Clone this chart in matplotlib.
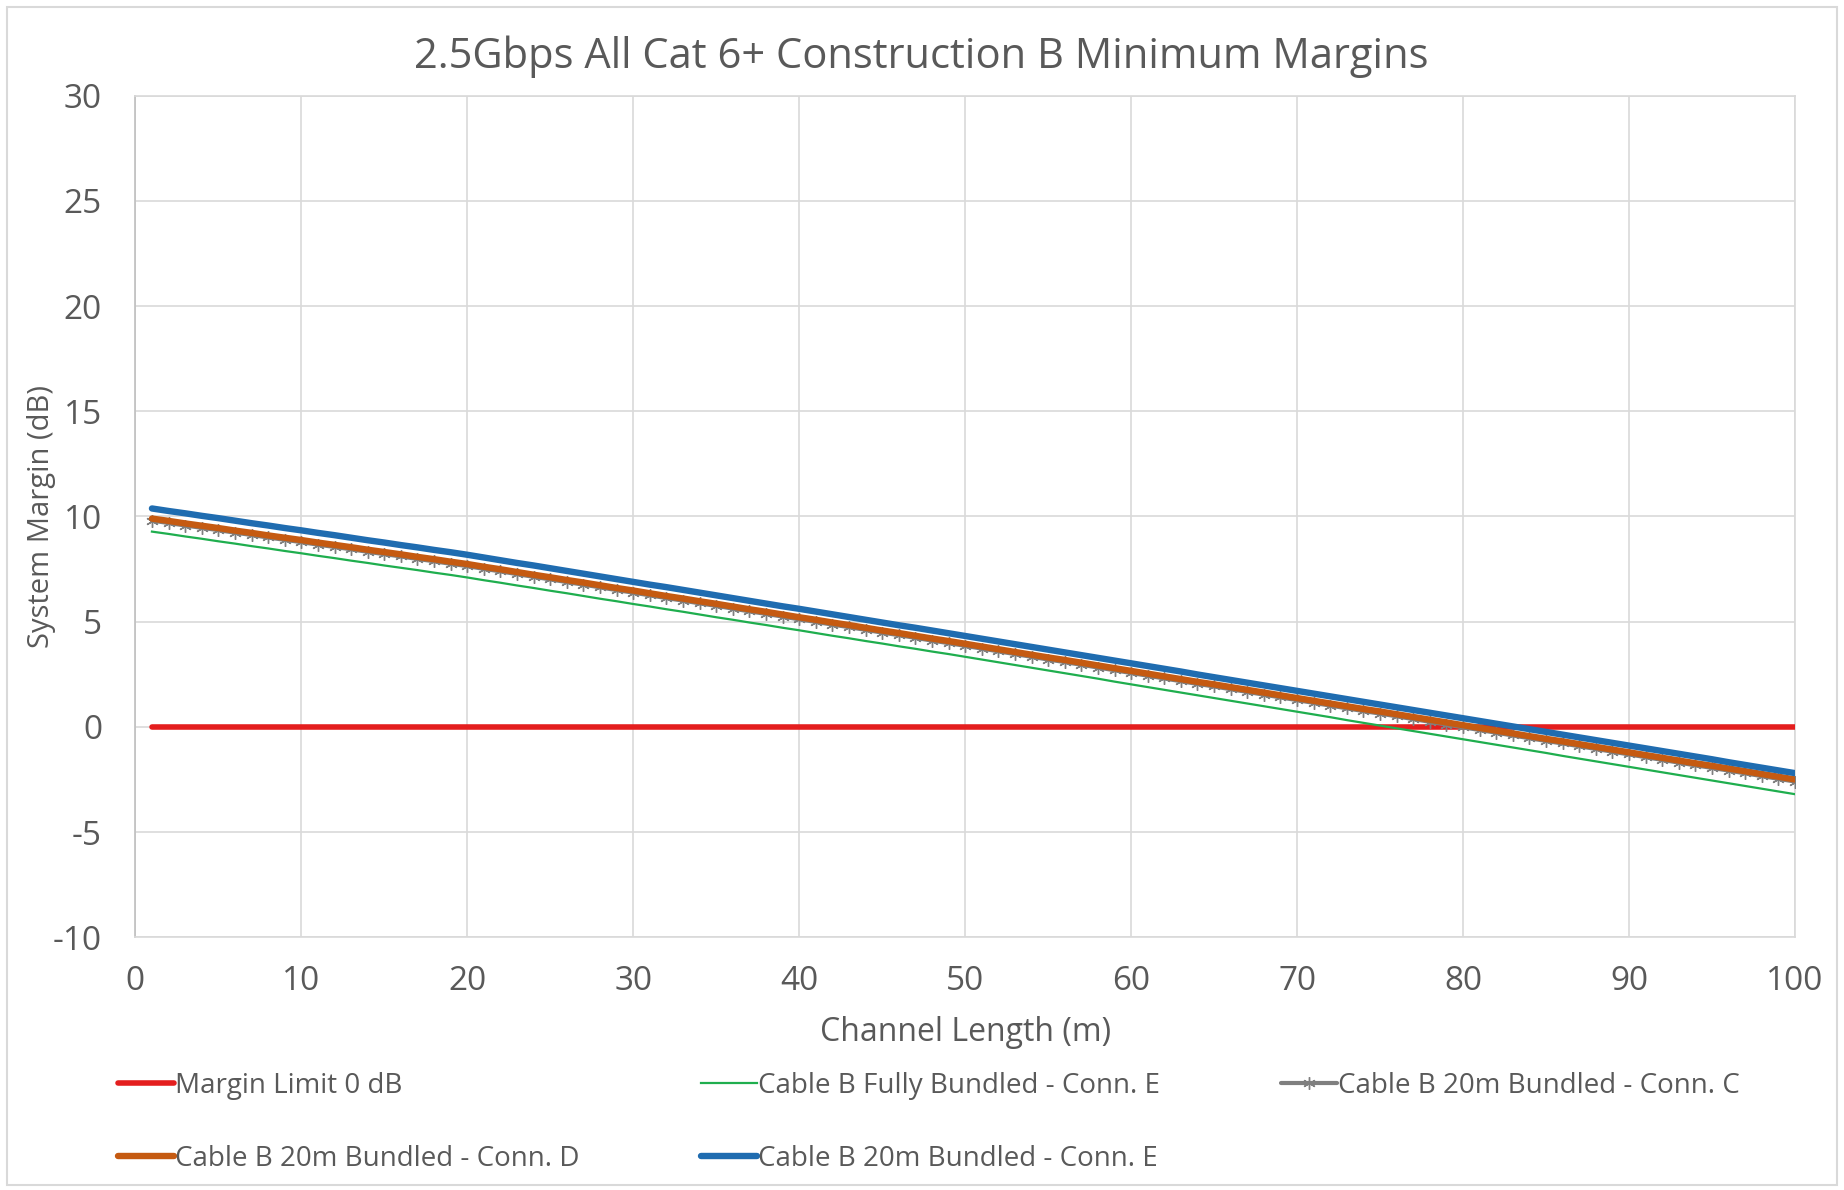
import matplotlib
matplotlib.use("Agg")
import matplotlib.pyplot as plt
from matplotlib.patches import Rectangle

plt.rcParams['font.family'] = ['Open Sans', 'DejaVu Sans']
plt.rcParams['axes.unicode_minus'] = False

# channel length (m)
length = list(range(1, 101))

# system margin (dB)
margin_limit = [0.0] * 100

fully_bundled_e = [
    9.28, 9.17, 9.05, 8.94, 8.82, 8.71, 8.59, 8.48, 8.36, 8.25,
    8.13, 8.02, 7.90, 7.79, 7.67, 7.56, 7.45, 7.33, 7.22, 7.10,
    6.97, 6.85, 6.72, 6.60, 6.47, 6.35, 6.22, 6.09, 5.97, 5.84,
    5.72, 5.59, 5.47, 5.34, 5.21, 5.09, 4.96, 4.84, 4.71, 4.59,
    4.46, 4.33, 4.21, 4.08, 3.96, 3.83, 3.71, 3.58, 3.46, 3.33,
    3.20, 3.07, 2.94, 2.81, 2.68, 2.55, 2.42, 2.29, 2.15, 2.02,
    1.89, 1.76, 1.63, 1.50, 1.37, 1.24, 1.11, 0.98, 0.85, 0.72,
    0.59, 0.46, 0.32, 0.19, 0.06, -0.07, -0.20, -0.33, -0.46, -0.59,
    -0.72, -0.85, -0.98, -1.11, -1.24, -1.38, -1.51, -1.64, -1.77, -1.90,
    -2.03, -2.16, -2.29, -2.42, -2.55, -2.68, -2.81, -2.94, -3.07, -3.20,
]

bundled_20m_c = [
    9.80, 9.69, 9.57, 9.46, 9.35, 9.23, 9.12, 9.00, 8.89, 8.78,
    8.66, 8.55, 8.44, 8.32, 8.21, 8.10, 7.98, 7.87, 7.75, 7.64,
    7.51, 7.39, 7.26, 7.13, 7.01, 6.88, 6.76, 6.63, 6.50, 6.38,
    6.25, 6.12, 6.00, 5.87, 5.75, 5.62, 5.49, 5.37, 5.24, 5.11,
    4.99, 4.86, 4.74, 4.61, 4.48, 4.36, 4.23, 4.10, 3.98, 3.85,
    3.72, 3.59, 3.46, 3.33, 3.20, 3.08, 2.95, 2.82, 2.69, 2.56,
    2.43, 2.30, 2.17, 2.04, 1.92, 1.79, 1.66, 1.53, 1.40, 1.27,
    1.14, 1.01, 0.88, 0.75, 0.63, 0.50, 0.37, 0.24, 0.11, -0.02,
    -0.15, -0.28, -0.41, -0.54, -0.67, -0.79, -0.92, -1.05, -1.18, -1.31,
    -1.44, -1.57, -1.70, -1.83, -1.95, -2.08, -2.21, -2.34, -2.47, -2.60,
]

bundled_20m_d = [
    9.90, 9.79, 9.67, 9.56, 9.45, 9.33, 9.22, 9.10, 8.99, 8.88,
    8.76, 8.65, 8.54, 8.42, 8.31, 8.20, 8.08, 7.97, 7.85, 7.74,
    7.61, 7.49, 7.36, 7.23, 7.11, 6.98, 6.86, 6.73, 6.60, 6.48,
    6.35, 6.22, 6.10, 5.97, 5.85, 5.72, 5.59, 5.47, 5.34, 5.21,
    5.09, 4.96, 4.84, 4.71, 4.58, 4.46, 4.33, 4.20, 4.08, 3.95,
    3.82, 3.69, 3.56, 3.43, 3.30, 3.18, 3.05, 2.92, 2.79, 2.66,
    2.53, 2.40, 2.27, 2.14, 2.02, 1.89, 1.76, 1.63, 1.50, 1.37,
    1.24, 1.11, 0.98, 0.85, 0.73, 0.60, 0.47, 0.34, 0.21, 0.08,
    -0.05, -0.18, -0.31, -0.44, -0.57, -0.69, -0.82, -0.95, -1.08, -1.21,
    -1.34, -1.47, -1.60, -1.73, -1.85, -1.98, -2.11, -2.24, -2.37, -2.50,
]

bundled_20m_e = [
    10.38, 10.26, 10.15, 10.03, 9.92, 9.80, 9.68, 9.57, 9.45, 9.34,
    9.22, 9.11, 8.99, 8.87, 8.76, 8.64, 8.53, 8.41, 8.30, 8.18,
    8.05, 7.92, 7.79, 7.67, 7.54, 7.41, 7.28, 7.15, 7.02, 6.89,
    6.76, 6.64, 6.51, 6.38, 6.25, 6.12, 5.99, 5.86, 5.73, 5.61,
    5.48, 5.35, 5.22, 5.09, 4.96, 4.83, 4.71, 4.58, 4.45, 4.32,
    4.19, 4.06, 3.93, 3.80, 3.67, 3.54, 3.41, 3.28, 3.15, 3.02,
    2.89, 2.76, 2.63, 2.49, 2.36, 2.23, 2.10, 1.97, 1.84, 1.71,
    1.58, 1.45, 1.32, 1.19, 1.06, 0.93, 0.80, 0.67, 0.54, 0.41,
    0.28, 0.15, 0.02, -0.11, -0.24, -0.37, -0.50, -0.63, -0.76, -0.89,
    -1.02, -1.15, -1.28, -1.41, -1.54, -1.68, -1.81, -1.94, -2.07, -2.20,
]

x_ticks = list(range(0, 101, 10))
y_ticks = list(range(-10, 31, 5))

TXT = '#595959'
GRID = '#d9d9d9'

fig = plt.figure(figsize=(18.44, 11.90), dpi=100)
ax = fig.add_axes([0.0734, 0.2124, 0.9000, 0.7072])

l_red, = ax.plot(length, margin_limit, color='#e41e1e', lw=4.0,
                 solid_capstyle='round', label='Margin Limit 0 dB', zorder=3)
l_green, = ax.plot(length, fully_bundled_e, color='#1fae4e', lw=1.6,
                   label='Cable B Fully Bundled - Conn. E', zorder=4)
l_gray, = ax.plot(length, bundled_20m_c, color='#7f7f7f', lw=3.0,
                  marker=(6, 2, 0), ms=9, mew=1.0, mec='#7f7f7f',
                  solid_capstyle='round', label='Cable B 20m Bundled - Conn. C', zorder=5)
l_orange, = ax.plot(length, bundled_20m_d, color='#c55a11', lw=4.6,
                    solid_capstyle='round', label='Cable B 20m Bundled - Conn. D', zorder=6)
l_blue, = ax.plot(length, bundled_20m_e, color='#1f6cb0', lw=4.6,
                  solid_capstyle='round', label='Cable B 20m Bundled - Conn. E', zorder=7)

ax.set_xlim(0, 100)
ax.set_ylim(-10, 30)
ax.set_xticks(x_ticks)
ax.set_yticks(y_ticks)
ax.grid(True, color=GRID, lw=1.2)
ax.set_axisbelow(True)
for s in ax.spines.values():
    s.set_color(GRID)
    s.set_linewidth(1.2)
ax.spines['left'].set_color('#bfbfbf')
ax.tick_params(length=0, labelsize=24, labelcolor=TXT)
ax.tick_params(axis='y', pad=24)
ax.tick_params(axis='x', pad=20)

ax.set_xlabel('Channel Length (m)', fontsize=23, color=TXT)
ax.set_ylabel('System Margin (dB)', fontsize=21, color=TXT)
ax.xaxis.set_label_coords(0.5, -0.094)
ax.yaxis.set_label_coords(-0.048, 0.5)
fig.text(0.4995, 0.952, '2.5Gbps All Cat 6+ Construction B Minimum Margins',
         ha='center', va='center', fontsize=30, color=TXT)

handles = [l_red, l_orange, l_green, l_blue, l_gray]
fig.legend(handles, [h.get_label() for h in handles], ncol=3,
           loc='upper left', bbox_to_anchor=(118 / 1844, 0.0, (1740 - 118) / 1844, 0.099),
           mode='expand', frameon=False, fontsize=20, labelcolor=TXT,
           handlelength=2.0, handletextpad=0.05, borderaxespad=0, borderpad=0,
           labelspacing=1.6)

fig.patches.append(Rectangle((0.004, 0.004), 0.992, 0.99, transform=fig.transFigure,
                             fill=False, ec=GRID, lw=1.5))

fig.savefig('out.png', dpi=100)
